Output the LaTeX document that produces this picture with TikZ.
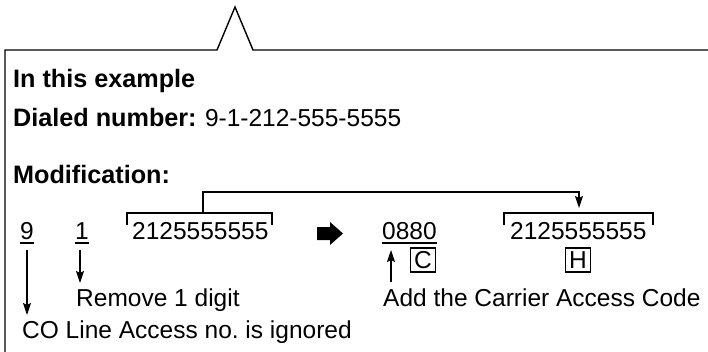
\documentclass[tikz,border=0pt]{standalone}
\usepackage{fontspec}
\setmainfont{Liberation Sans}
\usetikzlibrary{arrows.meta,calc}
\begin{document}
\frenchspacing
\begin{tikzpicture}[x=1pt,y=-1pt,
  txt/.style={anchor=base west,inner sep=0pt,font=\fontsize{24.5}{28}\selectfont},
  btxt/.style={txt,font=\fontsize{25.2}{28}\selectfont\bfseries},
  ln/.style={line width=1.4pt},
  arr/.style={ln,-{Stealth[length=12pt,width=8pt,inset=2pt]}},
  letterbox/.style={draw,line width=1.2pt,minimum width=25pt,minimum height=24pt,inner sep=0pt,font=\fontsize{24.5}{28}\selectfont}]
\useasboundingbox (0,0) rectangle (708,351);
% callout frame
\coordinate (fb) at (5,352);
\coordinate (fl) at (5,50);
\coordinate (tl) at (217,50);
\coordinate (tp) at (235,7);
\coordinate (tr) at (253,50);
\coordinate (fr) at (710,50);
\draw[ln] (fb) -- (fl) -- (tl) -- (tp) -- (tr) -- (fr);
% header texts
\node[btxt] (ex) at (13,87) {In this example};
\node[btxt] (dn) at (13,126) {Dialed number:};
\node[txt] (num) at ($(dn.base east)+(8,0)$) {9-1-212-555-5555};
\node[btxt] (mod) at (13,183) {Modification:};
% digits row
\node[txt] (n9) at (20,239) {9};
\node[txt] (n1) at (75,239) {1};
\node[txt] (ph1) at (132,239) {2125555555};
\node[txt] (cac) at (382,239) {0880};
\node[txt] (ph2) at (510,239) {2125555555};
% underlines
\draw[line width=1.1pt] ($(n9.base west)+(0,4)$) -- ($(n9.base east)+(0,4)$);
\draw[line width=1.1pt] ($(n1.base west)+(0,4)$) -- ($(n1.base east)+(0,4)$);
\draw[line width=1.1pt] ($(cac.base west)+(0,4)$) -- ($(cac.base east)+(0,4)$);
% brackets
\coordinate (b1l) at (127,225);
\coordinate (b1r) at (272,225);
\draw[line width=1.1pt] (b1l) -- (127,213) -- (272,213) -- (b1r);
\coordinate (b2l) at (504,225);
\coordinate (b2r) at (653,225);
\draw[line width=1.1pt] (b2l) -- (504,213) -- (653,213) -- (b2r);
% connector from first to second number
\coordinate (c1) at (203,213);
\coordinate (c2) at (579,208);
\draw[arr] (c1) -- (203,192) -- (579,192) -- (c2);
% big black arrow
\fill (317,227) -- (330,227) -- (330,222) -- (343,233.5) -- (330,245) -- (330,240) -- (317,240) -- cycle;
% letter boxes
\node[letterbox] (cbox) at (423,260) {C};
\node[letterbox] (hbox) at (578,260) {H};
% lower texts
\node[txt] (rem) at (76,306) {Remove 1 digit};
\node[txt] (add) at (383,306) {Add the Carrier Access Code};
\node[txt] (co) at (22,338) {CO Line Access no. is ignored};
% arrows
\coordinate (a9s) at (27,250);
\coordinate (a9e) at (27,315);
\coordinate (a1s) at (80,250);
\coordinate (a1e) at (80,283);
\coordinate (acs) at (391,282);
\coordinate (ace) at (391,250);
\draw[arr] (a9s) -- (a9e);
\draw[arr] (a1s) -- (a1e);
\draw[arr] (acs) -- (ace);
\end{tikzpicture}
\end{document}
